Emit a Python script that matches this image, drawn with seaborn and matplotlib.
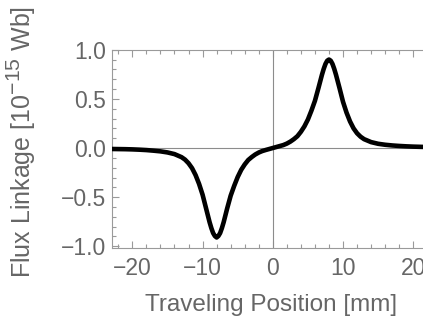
import matplotlib
matplotlib.use("Agg")
import matplotlib.pyplot as plt
from matplotlib.ticker import MultipleLocator
import seaborn as sns
import pandas as pd

try:
    import matplotlib._mathtext as _mt
    _mt.SHRINK_FACTOR = 0.85
except Exception:
    pass

# Traveling position [mm] and flux linkage [1e-15 Wb]
position = [-23, -22, -21, -20, -19, -18, -17, -16, -15, -14, -13, -12.5, -12,
            -11.5, -11, -10.5, -10, -9.5, -9, -8.75, -8.5, -8.25, -8, -7.75,
            -7.5, -7.25, -7, -6.5, -6, -5.5, -5, -4.5, -4, -3.5, -3, -2.5, -2,
            -1.5, -1, -0.5, 0,
            0.5, 1, 1.5, 2, 2.5, 3, 3.5, 4, 4.5, 5, 5.5, 6, 6.5, 7, 7.25, 7.5,
            7.75, 8, 8.25, 8.5, 8.75, 9, 9.5, 10, 10.5, 11, 11.5, 12, 12.5, 13,
            14, 15, 16, 17, 18, 19, 20, 21, 22, 23]
flux = [-0.010, -0.011, -0.012, -0.014, -0.017, -0.021, -0.027, -0.034, -0.045,
        -0.062, -0.093, -0.118, -0.155, -0.205, -0.275, -0.365, -0.475, -0.615,
        -0.755, -0.815, -0.865, -0.895, -0.910, -0.895, -0.865, -0.815, -0.755,
        -0.615, -0.485, -0.385, -0.295, -0.222, -0.167, -0.122, -0.092, -0.066,
        -0.046, -0.031, -0.020, -0.010, 0.000,
        0.010, 0.020, 0.030, 0.045, 0.065, 0.090, 0.120, 0.165, 0.220, 0.290,
        0.380, 0.480, 0.610, 0.745, 0.805, 0.855, 0.888, 0.900, 0.888, 0.855,
        0.805, 0.745, 0.610, 0.470, 0.360, 0.270, 0.200, 0.150, 0.115, 0.090,
        0.060, 0.043, 0.033, 0.026, 0.021, 0.017, 0.014, 0.012, 0.010, 0.009]

x_major_ticks = [-20, -10, 0, 10, 20]
y_major_ticks = [-1.0, -0.5, 0.0, 0.5, 1.0]
y_tick_labels = ["\u22121.0", "\u22120.5", "0.0", "0.5", "1.0"]
x_tick_labels = ["\u221220", "\u221210", "0", "10", "20"]

sns.set_style("ticks")
plt.rcParams["font.family"] = ["Liberation Sans", "DejaVu Sans"]
plt.rcParams["mathtext.fontset"] = "custom"
plt.rcParams["mathtext.rm"] = "Liberation Sans"
plt.rcParams["mathtext.it"] = "Liberation Sans:italic"
plt.rcParams["mathtext.default"] = "rm"

text_col = "#666666"
frame_col = "#9a9a9a"

fig = plt.figure(figsize=(4.23, 3.27), dpi=100)
W, H = 423, 327
left_px, right_px, top_px, bottom_px = 112, 433.6, 49.5, 247.5
ax = fig.add_axes([left_px / W, 1 - bottom_px / H,
                   (right_px - left_px) / W, (bottom_px - top_px) / H])

ax.axhline(0, color="#8c8c8c", lw=0.8, zorder=1)
ax.axvline(0, color="#8c8c8c", lw=0.8, zorder=1)

df = pd.DataFrame({"position": position, "flux": flux})
sns.lineplot(data=df, x="position", y="flux", color="black", linewidth=3.3,
             ax=ax, zorder=3)

ax.set_xlim(-22.9, 22.9)
ax.set_ylim(-1.012, 1.002)
ax.set_xticks(x_major_ticks)
ax.set_xticklabels(x_tick_labels)
ax.set_yticks(y_major_ticks)
ax.set_yticklabels(y_tick_labels)
ax.xaxis.set_minor_locator(MultipleLocator(2))
ax.yaxis.set_minor_locator(MultipleLocator(0.1))
ax.tick_params(which="both", direction="in", top=True, right=False,
               color=frame_col, width=0.8)
ax.tick_params(which="major", length=5, labelsize=16.5, labelcolor=text_col)
ax.tick_params(which="minor", length=3)
ax.tick_params(axis="x", which="major", pad=7)
ax.tick_params(axis="y", which="major", pad=4)

for s in ["left", "bottom", "top"]:
    ax.spines[s].set_color(frame_col)
    ax.spines[s].set_linewidth(0.8)
ax.spines["right"].set_visible(False)

ax.set_xlabel("")
ax.set_ylabel("")
fig.text(271 / W, 1 - 311.5 / H, "Traveling Position [mm]", ha="center",
         va="baseline", fontsize=17.5, color=text_col)
fig.text(21 / W, 1 - 141.5 / H, "Flux Linkage [10$^{-15}$ Wb]",
         rotation=90, ha="center", va="center", fontsize=18, color=text_col)

fig.savefig("out.png", dpi=100)
